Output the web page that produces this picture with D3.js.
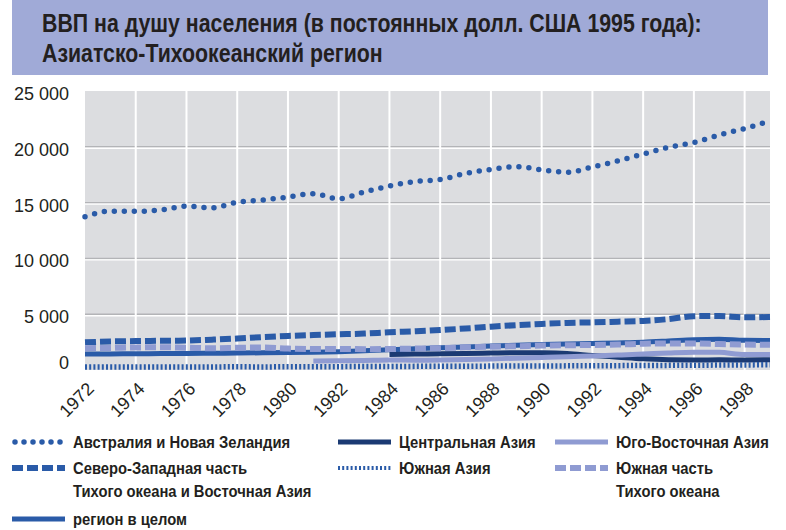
<!DOCTYPE html>
<meta charset="utf-8">
<script src="https://d3js.org/d3.v7.min.js"></script>
<style>
  body { margin: 0; background: #fff; }
  text { font-family: "Liberation Sans", Arial, Helvetica, sans-serif; fill: #231f20; }
</style>
<div id="chart"></div>
<script>
    // years on the x axis
    var years = d3.range(1972, 2000);
    var xTicks = [1972, 1974, 1976, 1978, 1980, 1982, 1984, 1986, 1988, 1990, 1992, 1994, 1996, 1998];
    var yTicks = [0, 5000, 10000, 15000, 20000, 25000];

    // GDP per capita, constant 1995 USD
    var australia = [13740, 14230, 14220, 14340, 14670, 14540, 15030, 15230, 15500, 15800, 15350, 15950, 16490, 16890,
                     17070, 17610, 17970, 18220, 17940, 17720, 18190, 18730, 19350, 19960, 20390, 21060, 21640, 22310];
    var nwPacific = [2480, 2560, 2590, 2620, 2640, 2720, 2820, 2950, 3050, 3130, 3200, 3260, 3380, 3470,
                     3580, 3720, 3880, 4020, 4130, 4220, 4270, 4330, 4400, 4560, 4820, 4840, 4720, 4750];
    var centralAsia = [null, null, null, null, null, null, null, null, null, null, null, null, 1400, 1430,
                       1450, 1480, 1520, 1550, 1540, 1480, 1300, 1150, 1000, 920, 900, 910, 900, 920];
    var southAsia = [260, 265, 265, 270, 270, 275, 285, 275, 290, 295, 300, 310, 315, 325,
                     330, 335, 350, 360, 365, 370, 375, 390, 400, 415, 430, 440, 455, 465];
    var southeastAsia = [null, null, null, null, null, null, null, null, null, 810, 830, 860, 900, 880,
                         890, 930, 990, 1060, 1130, 1190, 1260, 1340, 1430, 1530, 1600, 1580, 1380, 1400];
    var southPacific = [1950, 1980, 2020, 2040, 2000, 1950, 1990, 2020, 1920, 1880, 1880, 1870, 1880, 1920,
                        1960, 2030, 2090, 2130, 2190, 2220, 2240, 2280, 2350, 2380, 2380, 2330, 2280, 2260];
    var region = [1430, 1440, 1460, 1470, 1480, 1500, 1520, 1540, 1560, 1590, 1640, 1720, 1820, 1900,
                  1990, 2070, 2150, 2220, 2280, 2330, 2380, 2430, 2490, 2600, 2720, 2760, 2660, 2650];

    var blue = "#2a5ba8", navy = "#1b3a73", light = "#8f9bd2";

    var series = [
        { name: "Австралия и Новая Зеландия", values: australia, color: blue, width: 5.5, dash: "0,10", cap: "round" },
        { name: "Северо-Западная часть|Тихого океана и Восточная Азия", values: nwPacific, color: blue, width: 6, dash: "11,4", cap: "butt" },
        { name: "регион в целом", values: region, color: blue, width: 5, dash: null, cap: "butt" },
        { name: "Центральная Азия", values: centralAsia, color: navy, width: 5, dash: null, cap: "butt" },
        { name: "Юго-Восточная Азия", values: southeastAsia, color: light, width: 5, dash: null, cap: "butt" },
        { name: "Южная Азия", values: southAsia, color: blue, width: 5.5, dash: "2,2.2", cap: "butt" },
        { name: "Южная часть|Тихого океана", values: southPacific, color: light, width: 6, dash: "11,4", cap: "butt" }
    ];

    var svg = d3.select("#chart").append("svg")
        .attr("width", 786)
        .attr("height", 530);

    // title band
    svg.append("rect")
        .attr("x", 12).attr("y", 0)
        .attr("width", 756).attr("height", 75)
        .attr("fill", "#a0aad7");

    // narrow bold text, squeezed horizontally
    function narrowText(parent, tx, ty, k, size, str) {
        return parent.append("text")
            .attr("transform", "translate(" + tx + "," + ty + ") scale(" + k + ",1)")
            .style("font-size", size + "px").style("font-weight", "bold")
            .text(str);
    }

    narrowText(svg, 42, 32, 0.82, 26, "ВВП на душу населения (в постоянных долл. США 1995 года):");
    narrowText(svg, 42, 62, 0.82, 26, "Азиатско-Тихоокеанский регион");

    var x = d3.scaleLinear().domain([1972, 1999]).range([85, 770]);
    var y = d3.scaleLinear().domain([0, 25000]).range([370, 91]);

    // plot background
    svg.append("rect")
        .attr("x", x(1972)).attr("y", y(25000))
        .attr("width", x(1999) - x(1972)).attr("height", y(0) - y(25000))
        .attr("fill", "#dcdde0");

    // horizontal grid: grey line with a white line under it
    var grid = svg.append("g");
    var inner = yTicks.filter(function (d) { return d > 0 && d < 25000; });
    grid.selectAll(".hg").data(inner)
        .enter().append("line")
        .attr("x1", x(1972)).attr("x2", x(1999))
        .attr("y1", function (d) { return y(d); }).attr("y2", function (d) { return y(d); })
        .attr("stroke", "#b3b4b7").attr("stroke-width", 1.4);
    grid.selectAll(".hw").data(inner)
        .enter().append("line")
        .attr("x1", x(1972)).attr("x2", x(1999))
        .attr("y1", function (d) { return y(d) + 1.5; }).attr("y2", function (d) { return y(d) + 1.5; })
        .attr("stroke", "#fff").attr("stroke-width", 1.4);
    grid.selectAll(".vg").data(xTicks.slice(1))
        .enter().append("line")
        .attr("x1", function (d) { return x(d); }).attr("x2", function (d) { return x(d); })
        .attr("y1", y(25000)).attr("y2", y(0))
        .attr("stroke", "#fff").attr("stroke-width", 2);

    // y labels
    var fmt = function (d) { return d3.format(",")(d).replace(",", " "); };
    svg.append("g").selectAll("text").data(yTicks).enter().append("text")
        .attr("x", 69)
        .attr("y", function (d) { return d === 0 ? y(d) - 1 : y(d) + 9; })
        .attr("text-anchor", "end")
        .style("font-size", "18px")
        .text(fmt);

    // x labels, rotated
    svg.append("g").selectAll("text").data(xTicks).enter().append("text")
        .attr("transform", function (d) { return "translate(" + (x(d) + 10) + ",390) rotate(-45)"; })
        .attr("text-anchor", "end")
        .style("font-size", "18px")
        .text(function (d) { return d; });

    // lines
    var line = d3.line()
        .defined(function (d) { return d != null; })
        .x(function (d, i) { return x(years[i]); })
        .y(function (d) { return y(d); })
        .curve(d3.curveMonotoneX);

    svg.append("g").selectAll("path").data(series).enter().append("path")
        .attr("d", function (s) { return line(s.values); })
        .attr("fill", "none")
        .attr("stroke", function (s) { return s.color; })
        .attr("stroke-width", function (s) { return s.width; })
        .attr("stroke-dasharray", function (s) { return s.dash; })
        .attr("stroke-linecap", function (s) { return s.cap; });

    // legend
    var legendPos = [
        [12, 442], [12, 468], [12, 519], [338, 442], [555, 442], [338, 468], [555, 468]
    ];
    var legend = svg.append("g").selectAll("g").data(series).enter().append("g")
        .attr("transform", function (s, i) { return "translate(" + legendPos[i][0] + "," + legendPos[i][1] + ")"; });

    legend.append("line")
        .attr("x1", function (s) { return s.cap === "round" ? 3 : 0; })
        .attr("x2", 53).attr("y1", 0).attr("y2", 0)
        .attr("stroke", function (s) { return s.color; })
        .attr("stroke-width", function (s) { return s.name === "Южная Азия" ? 4 : s.width; })
        .attr("stroke-dasharray", function (s) { return s.cap === "round" ? "0,9" : s.dash; })
        .attr("stroke-linecap", function (s) { return s.cap; });

    legend.each(function (s) {
        var g = d3.select(this);
        s.name.split("|").forEach(function (p, j) {
            narrowText(g, 61, 6 + j * 23, 0.87, 17, p);
        });
    });
</script>
